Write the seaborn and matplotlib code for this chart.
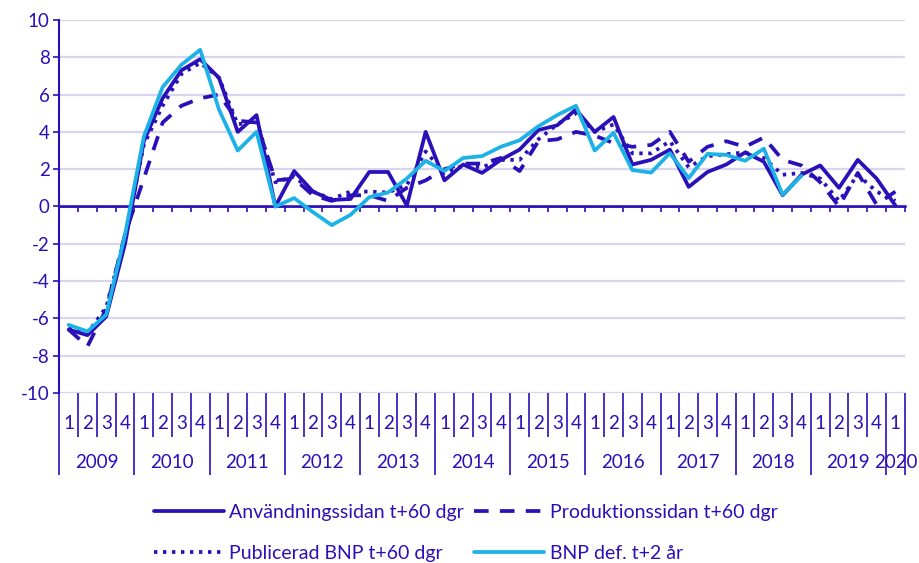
import numpy as np
import pandas as pd
import seaborn as sns
import matplotlib.pyplot as plt
import matplotlib.transforms as mtransforms

# kvartal 2009Q1 - 2020Q1
years = ["2009", "2010", "2011", "2012", "2013", "2014", "2015", "2016",
         "2017", "2018", "2019", "2020"]
quarters_per_year = [4, 4, 4, 4, 4, 4, 4, 4, 4, 4, 4, 1]

names = ["Användningssidan t+60 dgr", "Produktionssidan t+60 dgr",
         "Publicerad BNP t+60 dgr", "BNP def. t+2 år"]

anv = [-6.6, -6.9, -5.9, -2.0, 3.5, 5.8, 7.3, 7.9, 6.9, 4.0, 4.9, 0.0,
       1.9, 0.8, 0.35, 0.4, 1.85, 1.85, 0.05, 4.0, 1.4, 2.25, 1.8, 2.5,
       3.05, 4.1, 4.35, 5.2, 4.0, 4.8, 2.25, 2.5, 3.05, 1.05, 1.85, 2.25,
       2.9, 2.4, 0.6, 1.7, 2.2, 1.0, 2.5, 1.5, 0.05]
prod = [-6.6, -7.5, -5.5, -1.5, 1.5, 4.5, 5.4, 5.8, 6.0, 4.6, 4.5, 1.4,
        1.5, 0.6, 0.3, 0.6, 0.6, 0.3, 1.0, 1.4, 2.0, 2.3, 2.3, 2.6,
        1.9, 3.5, 3.6, 4.0, 3.8, 3.4, 3.2, 3.3, 4.0, 2.4, 3.2, 3.5,
        3.2, 3.7, 2.5, 2.2, 1.3, 0.0, 1.8, 0.1, 0.8]
publ = [-6.5, -6.8, -5.4, -1.6, 3.3, 5.4, 7.1, 7.7, 6.9, 4.4, 4.6, 1.3,
        1.6, 0.8, 0.4, 0.8, 0.8, 0.75, 1.15, 2.95, 1.8, 2.2, 2.1, 2.5,
        2.5, 3.6, 4.4, 5.0, 4.0, 4.4, 2.85, 2.85, 3.5, 2.1, 2.7, 2.8,
        2.9, 2.6, 1.7, 1.8, 1.5, 0.3, 1.7, 0.8, 0.3]
bnp_def = [-6.35, -6.7, -5.8, -1.5, 3.75, 6.4, 7.6, 8.4, 5.2, 3.0, 4.0, 0.0,
           0.45, -0.3, -1.0, -0.45, 0.5, 0.75, 1.5, 2.45, 1.9, 2.6, 2.7, 3.2,
           3.55, 4.3, 4.9, 5.4, 3.0, 3.95, 1.95, 1.82, 2.86, 1.52, 2.82, 2.77,
           2.45, 3.1, 0.62, 1.64]

dark = "#2A10B8"
cyan = "#1CB2E6"
gridc = "#D6D6F0"

sns.set_theme(style="white")
plt.rcParams["font.family"] = ["Lato", "DejaVu Sans"]
plt.rcParams["axes.unicode_minus"] = False

frames = []
for name, vals in zip(names, [anv, prod, publ, bnp_def]):
    frames.append(pd.DataFrame({"kvartal": np.arange(len(vals)),
                                "varde": vals, "serie": name}))
df = pd.concat(frames, ignore_index=True)
n = len(anv)

fig = plt.figure(figsize=(9.19, 5.63), dpi=100)
ax = fig.add_axes([0.0645, 0.302, 0.920, 0.6625])

draw_order = [names[1], names[2], names[0], names[3]]
palette = {names[0]: dark, names[1]: dark, names[2]: dark, names[3]: cyan}
dashes = {names[0]: "", names[1]: (3.9, 3.0), names[2]: (0.9, 1.5), names[3]: ""}
sns.lineplot(data=df, x="kvartal", y="varde", hue="serie", style="serie",
             hue_order=draw_order, style_order=draw_order, palette=palette,
             dashes=dashes, linewidth=2.7, errorbar=None, legend=False, ax=ax)
handles = dict(zip(draw_order, ax.get_lines()[:4]))

ax.set_xlim(-0.5, n - 0.5)
ax.set_ylim(-10, 10)
ax.set_yticks(range(-10, 11, 2))
ax.set_xlabel("")
ax.set_ylabel("")
ax.yaxis.grid(True, color=gridc, linewidth=1.6)
ax.xaxis.grid(False)
for s in ["top", "right", "bottom"]:
    ax.spines[s].set_visible(False)
ax.spines["left"].set_color(dark)
ax.spines["left"].set_linewidth(1.5)
ax.tick_params(axis="y", left=True, direction="out", length=4, width=1.2,
               color=dark, labelcolor=dark, labelsize=13.5, pad=3)

# kategori-axel under diagrammet
bounds = np.arange(-0.5, n, 1.0)
year_bounds = np.concatenate([[-0.5], np.cumsum(quarters_per_year) - 0.5])
ax.set_xticks(year_bounds)
ax.set_xticks(bounds, minor=True)
ax.tick_params(axis="x", which="major", bottom=True, direction="out",
               length=59, width=1.2, color=dark, labelbottom=False)
ax.tick_params(axis="x", which="minor", bottom=True, direction="out",
               length=32, width=1.2, color=dark, labelbottom=False)

# nollinjen med små streck
ax.axhline(0, color=dark, linewidth=1.8, zorder=1.5)
sec = ax.secondary_xaxis(0.5)
sec.set_alignment("bottom")
sec.set_xticks(bounds)
sec.tick_params(direction="out", length=4, width=1.2, color=dark,
                labelbottom=False, labeltop=False)
sec.spines["bottom"].set_color(dark)
sec.spines["bottom"].set_linewidth(1.8)

trans = mtransforms.blended_transform_factory(ax.transData, ax.transAxes)
pos = 0
for yr, cnt in zip(years, quarters_per_year):
    for q in range(cnt):
        ax.text(pos + q, -0.083, str(q + 1), transform=trans, ha="center",
                va="center", fontsize=13.5, color=dark)
    ax.text(pos + (cnt - 1) / 2, -0.186, yr, transform=trans, ha="center",
            va="center", fontsize=13.5, color=dark)
    pos += cnt

legend_order = [names[0], names[2], names[1], names[3]]
fig.legend([handles[k] for k in legend_order], legend_order, ncol=2,
           loc="center", bbox_to_anchor=(0.5066, 0.0535), frameon=False,
           fontsize=14, labelcolor=dark, handlelength=3.6, handletextpad=0.3,
           columnspacing=0.5, labelspacing=1.25)

fig.savefig("out.png", dpi=100)
